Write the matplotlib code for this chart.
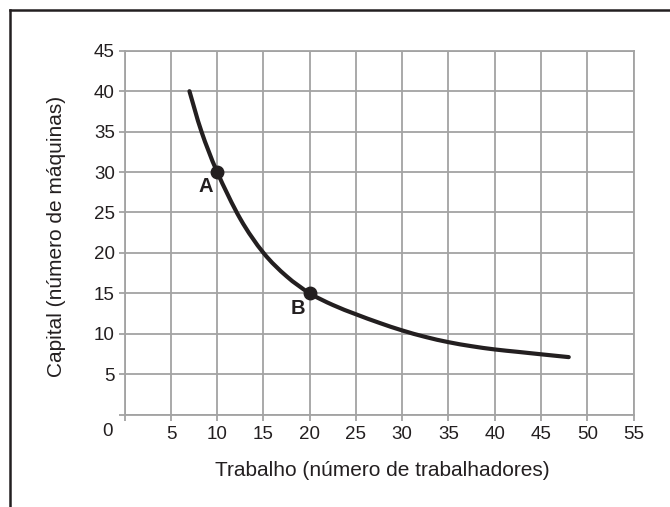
import matplotlib
matplotlib.use("Agg")
import matplotlib.pyplot as plt
from matplotlib.path import Path
from matplotlib.patches import PathPatch
from matplotlib.lines import Line2D
import matplotlib.transforms as mtransforms
import numpy as np

plt.rcParams['font.family'] = ['Liberation Sans', 'DejaVu Sans']

# Data
trabalho = [7, 8.3, 10, 12.5, 15, 17.5, 20, 22.5, 25, 27.5, 30,
            32.5, 35, 37.5, 40, 42.5, 45, 48]
capital = [40, 35, 30, 24.2, 20, 17.1, 15, 13.55, 12.4, 11.35, 10.4,
           9.6, 8.95, 8.45, 8.05, 7.75, 7.45, 7.1]
point_names = ['A', 'B']
point_x = [10, 20]
point_y = [30, 15]
x_ticks = [0, 5, 10, 15, 20, 25, 30, 35, 40, 45, 50, 55]
y_ticks = [0, 5, 10, 15, 20, 25, 30, 35, 40, 45]
x_label = 'Trabalho (número de trabalhadores)'
y_label = 'Capital (número de máquinas)'

W, H = 670, 507
fig = plt.figure(figsize=(W / 100, H / 100), dpi=100)
ax = fig.add_axes([124.7 / W, 1 - 414.5 / H, (633.5 - 124.7) / W, (414.5 - 50.8) / H])

ink = '#231f20'
grid_c = '#a3a3a3'
ax.set_xlim(0, 55)
ax.set_ylim(0, 45)
ax.set_xticks(x_ticks)
ax.set_yticks(y_ticks)
ax.set_xticklabels([''] + [str(v) for v in x_ticks[1:]], fontsize=13.5, color=ink)
ax.set_yticklabels([''] + [str(v) for v in y_ticks[1:]], fontsize=13.5, color=ink)
ax.tick_params(axis='both', length=4, width=1.3, color=grid_c, direction='out')
ax.tick_params(axis='x', pad=4)
ax.tick_params(axis='y', pad=3)
ax.grid(True, color=grid_c, linewidth=1.3)
for s in ax.spines.values():
    s.set_color(grid_c)
    s.set_linewidth(1.3)
ax.set_axisbelow(True)

# "0" origin label placed left of the axis, on the tick-label row
trans = mtransforms.blended_transform_factory(ax.transData, ax.transAxes)
ax.text(-1.85, 0, '0', fontsize=13.5, color=ink, ha='center', va='top',
        transform=trans + mtransforms.ScaledTranslation(0, -8 / 100, fig.dpi_scale_trans))

# smooth curve through the read points (Catmull-Rom -> cubic Bezier in data coords)
pts = np.column_stack([trabalho, capital])
verts = [tuple(pts[0])]
codes = [Path.MOVETO]
n = len(pts)
for i in range(n - 1):
    p0 = pts[i - 1] if i > 0 else pts[i]
    p1 = pts[i]
    p2 = pts[i + 1]
    p3 = pts[i + 2] if i + 2 < n else pts[i + 1]
    c1 = p1 + (p2 - p0) / 6.0
    c2 = p2 - (p3 - p1) / 6.0
    verts += [tuple(c1), tuple(c2), tuple(p2)]
    codes += [Path.CURVE4] * 3
patch = PathPatch(Path(verts, codes), facecolor='none', edgecolor=ink,
                  linewidth=3.0, capstyle='round', joinstyle='round', zorder=3)
ax.add_patch(patch)

ax.plot(point_x, point_y, 'o', color=ink, markersize=9, zorder=4)
label_off = [(-1.25, -1.8), (-1.3, -1.9)]
for name, px, py, (dx, dy) in zip(point_names, point_x, point_y, label_off):
    ax.text(px + dx, py + dy, name, fontsize=14.5, fontweight='bold', color=ink,
            ha='center', va='center', zorder=5)

fig.text(382 / W, 1 - 470 / H, x_label, fontsize=15, color=ink,
         ha='center', va='center')
fig.text(56 / W, 1 - 236 / H, y_label, fontsize=15, color=ink,
         ha='center', va='center', rotation=90)

# outer frame (top and left)
fig.add_artist(Line2D([9.5 / W, 1.0], [1 - 10 / H, 1 - 10 / H], color=ink,
                      linewidth=1.8, transform=fig.transFigure))
fig.add_artist(Line2D([9.5 / W, 9.5 / W], [1 - 10 / H, 0], color=ink,
                      linewidth=1.8, transform=fig.transFigure))

fig.savefig('out.png', dpi=100)
